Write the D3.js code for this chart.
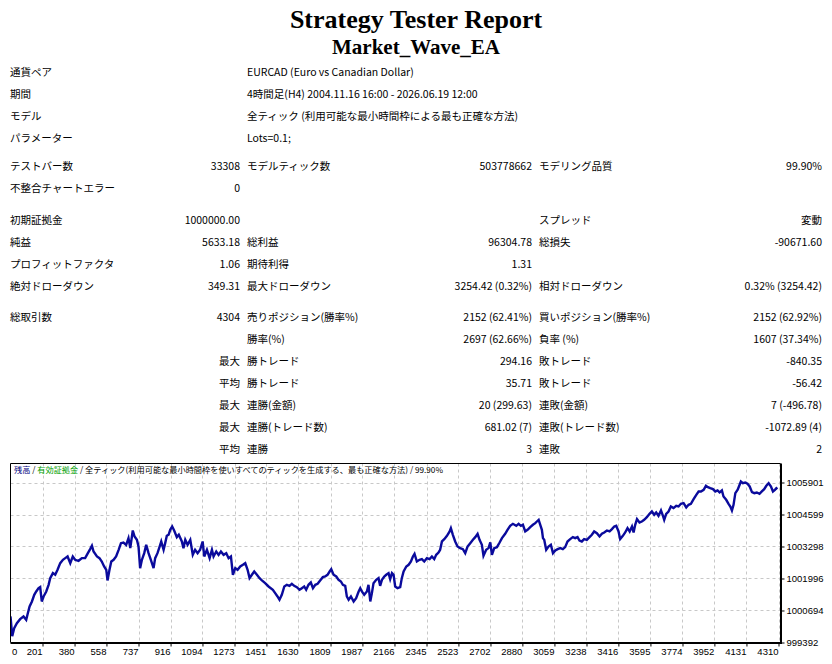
<!DOCTYPE html>
<html>
<head>
<meta charset="utf-8">
<script src="https://cdn.jsdelivr.net/npm/d3@7"></script>
<style>
body { margin: 0; background: #fff; }
svg { display: block; }
</style>
</head>
<body>
<div id="report"></div>
<script>
var titleText = "Strategy Tester Report";
var eaName = "Market_Wave_EA";

var infoRows = [
	["通貨ペア", "EURCAD (Euro vs Canadian Dollar)"],
	["期間", "4時間足(H4) 2004.11.16 16:00 - 2026.06.19 12:00"],
	["モデル", "全ティック (利用可能な最小時間枠による最も正確な方法)"],
	["パラメーター", "Lots=0.1;"]
];

var testRows = [
	["テストバー数", "33308", "モデルティック数", "503778662", "モデリング品質", "99.90%"],
	["不整合チャートエラー", "0", "", "", "", ""]
];

var profitRows = [
	["初期証拠金", "1000000.00", "", "", "スプレッド", "変動"],
	["純益", "5633.18", "総利益", "96304.78", "総損失", "-90671.60"],
	["プロフィットファクタ", "1.06", "期待利得", "1.31", "", ""],
	["絶対ドローダウン", "349.31", "最大ドローダウン", "3254.42 (0.32%)", "相対ドローダウン", "0.32% (3254.42)"]
];

var tradeRows = [
	["総取引数", "4304", "売りポジション(勝率%)", "2152 (62.41%)", "買いポジション(勝率%)", "2152 (62.92%)"],
	["", "", "勝率(%)", "2697 (62.66%)", "負率 (%)", "1607 (37.34%)"],
	["", "最大", "勝トレード", "294.16", "敗トレード", "-840.35"],
	["", "平均", "勝トレード", "35.71", "敗トレード", "-56.42"],
	["", "最大", "連勝(金額)", "20 (299.63)", "連敗(金額)", "7 (-496.78)"],
	["", "最大", "連勝(トレード数)", "681.02 (7)", "連敗(トレード数)", "-1072.89 (4)"],
	["", "平均", "連勝", "3", "連敗", "2"]
];

var legendParts = [
	["残高", "#000080"],
	[" / ", "#000000"],
	["有効証拠金", "#00a000"],
	[" / 全ティック(利用可能な最小時間枠を使いすべてのティックを生成する、最も正確な方法) / 99.90%", "#000000"]
];

var xTicks = [0, 201, 380, 558, 737, 916, 1094, 1273, 1451, 1630, 1809, 1987, 2166, 2345, 2523, 2702, 2880, 3059, 3238, 3416, 3595, 3774, 3952, 4131, 4310];
var yTicks = [999392, 1000694, 1001996, 1003298, 1004599, 1005901];

// balance after trade n
var tradeNo = [0, 24, 32, 43, 58, 76, 95, 110, 117, 129, 142, 155, 166, 179, 188, 197, 207, 222, 235, 244,
	259, 272, 285, 300, 315, 328, 341, 356, 370, 383, 402, 421, 439, 452, 467, 477, 486, 505, 519, 532,
	545, 557, 564, 575, 585, 598, 612, 626, 639, 653, 668, 681, 691, 705, 715, 728, 737, 746, 756, 769,
	780, 793, 806, 821, 830, 843, 854, 864, 877, 886, 895, 905, 914, 925, 936, 951, 962, 979, 988, 998,
	1011, 1026, 1040, 1053, 1067, 1081, 1095, 1104, 1119, 1134, 1147, 1156, 1171, 1184, 1197, 1212, 1227, 1240, 1253, 1264,
	1277, 1290, 1305, 1320, 1333, 1346, 1357, 1370, 1383, 1398, 1413, 1426, 1444, 1463, 1487, 1500, 1513, 1524, 1537, 1551,
	1565, 1580, 1593, 1606, 1621, 1636, 1649, 1662, 1673, 1686, 1699, 1711, 1724, 1737, 1751, 1766, 1779, 1792, 1804, 1813,
	1826, 1841, 1854, 1867, 1878, 1891, 1900, 1910, 1923, 1938, 1952, 1966, 1975, 1984, 1997, 2012, 2021, 2031, 2040, 2049,
	2064, 2077, 2086, 2096, 2109, 2120, 2133, 2142, 2152, 2161, 2170, 2183, 2198, 2207, 2217, 2232, 2245, 2258, 2269, 2278,
	2291, 2306, 2319, 2332, 2347, 2362, 2375, 2388, 2399, 2412, 2421, 2431, 2444, 2459, 2474, 2481, 2492, 2505, 2518, 2533,
	2548, 2561, 2574, 2589, 2604, 2617, 2630, 2641, 2654, 2663, 2678, 2691, 2701, 2710, 2723, 2738, 2753, 2766, 2784, 2797,
	2812, 2827, 2846, 2859, 2872, 2883, 2896, 2909, 2924, 2939, 2952, 2961, 2971, 2980, 2989, 2995, 3002, 3013, 3026, 3039,
	3051, 3064, 3077, 3092, 3106, 3119, 3132, 3147, 3162, 3175, 3188, 3199, 3212, 3225, 3240, 3255, 3268, 3281, 3296, 3311,
	3324, 3337, 3352, 3367, 3380, 3393, 3404, 3417, 3426, 3441, 3454, 3467, 3479, 3492, 3501, 3510, 3520, 3534, 3547, 3560,
	3575, 3590, 3603, 3616, 3627, 3640, 3654, 3665, 3672, 3683, 3696, 3709, 3724, 3739, 3752, 3765, 3780, 3795, 3808, 3821,
	3836, 3851, 3864, 3877, 3892, 3905, 3916, 3929, 3944, 3957, 3970, 3981, 3994, 4003, 4018, 4031, 4041, 4050, 4059, 4069,
	4082, 4093, 4100, 4111, 4124, 4137, 4149, 4162, 4175, 4189, 4204, 4217, 4230, 4242, 4255, 4268, 4279, 4290, 4298, 4304];

var balance = [1000000, 1000315, 999651, 999976, 1000180, 1000342, 1000451, 1000315, 1000519, 1000858, 1001061, 1001332, 1001468, 1001603, 1001644, 1001061, 1001264, 1001468, 1001739, 1002010,
	1002214, 1002146, 1002349, 1002620, 1002756, 1002824, 1002892, 1002620, 1002892, 1002756, 1002715, 1002824, 1002824, 1003000, 1003190, 1003326, 1003095, 1002892, 1002824, 1002688,
	1002485, 1002349, 1001915, 1002349, 1002688, 1002756, 1002892, 1003163, 1003434, 1003461, 1003366, 1003637, 1003231, 1003949, 1003705, 1003570, 1003298, 1002417, 1002756, 1003027,
	1003366, 1003027, 1002756, 1002417, 1002824, 1003027, 1003271, 1003502, 1003163, 1003434, 1003732, 1003773, 1003976, 1004112, 1003949, 1003678, 1003773, 1003502, 1003231, 1003570,
	1003366, 1003570, 1002959, 1003163, 1003027, 1003163, 1003502, 1002892, 1003163, 1002824, 1003163, 1002892, 1003095, 1002959, 1003095, 1002959, 1003027, 1002824, 1002892, 1002146,
	1002417, 1002349, 1002485, 1002553, 1002620, 1002349, 1002010, 1002146, 1002281, 1002146, 1002010, 1001915, 1001807, 1001671, 1001536, 1001400, 1001264, 1001129, 1001332, 1001671,
	1001739, 1001698, 1001780, 1001698, 1001644, 1001536, 1001603, 1001671, 1001536, 1001739, 1001834, 1001603, 1001739, 1001780, 1001915, 1002051, 1002078, 1002146, 1002281, 1002376,
	1002146, 1002078, 1001942, 1001875, 1001739, 1001698, 1001264, 1001129, 1001264, 1001061, 1001197, 1001468, 1001603, 1001468, 1001332, 1001468, 1001739, 1001061, 1001400, 1001807,
	1001942, 1002010, 1001698, 1001942, 1002078, 1002146, 1002214, 1001970, 1002214, 1002146, 1001671, 1001603, 1001644, 1002010, 1002281, 1002485, 1002553, 1002688, 1002892, 1003000,
	1002688, 1002756, 1002783, 1002688, 1002824, 1002783, 1002892, 1002783, 1002959, 1003054, 1003163, 1003502, 1003597, 1003732, 1003909, 1004044, 1003773, 1003502, 1003298, 1003231,
	1003190, 1003027, 1003298, 1003434, 1003570, 1003678, 1003814, 1003570, 1003366, 1002919, 1003163, 1003231, 1003461, 1002959, 1003231, 1003271, 1003461, 1003637, 1003814, 1003976,
	1004139, 1004220, 1004139, 1004220, 1004139, 1004180, 1003909, 1003976, 1004085, 1004180, 1004248, 1004315, 1004383, 1004180, 1003976, 1003637, 1003570, 1003163, 1003298, 1003366,
	1003027, 1003136, 1003190, 1003231, 1003190, 1003271, 1003502, 1003597, 1003678, 1003637, 1003678, 1003542, 1003502, 1003597, 1003570, 1003678, 1003773, 1003909, 1003841, 1003705,
	1003814, 1003868, 1003949, 1003909, 1004004, 1004112, 1004139, 1003909, 1003597, 1003732, 1003868, 1004044, 1003909, 1004112, 1003868, 1004180, 1004410, 1004275, 1004315, 1004383,
	1004492, 1004627, 1004722, 1004587, 1004682, 1004546, 1004763, 1004546, 1004383, 1004627, 1004722, 1004926, 1004858, 1004953, 1004926, 1005034, 1005061, 1004885, 1004993, 1005034,
	1005224, 1005400, 1005536, 1005536, 1005604, 1005766, 1005712, 1005671, 1005631, 1005536, 1005576, 1005495, 1005576, 1005332, 1005197, 1005034, 1004926, 1004763, 1004993, 1005468,
	1005604, 1005807, 1005943, 1005875, 1005902, 1005848, 1005739, 1005509, 1005468, 1005495, 1005441, 1005536, 1005631, 1005766, 1005875, 1005739, 1005536, 1005604, 1005671, 1005633];

var W = 832, H = 664;
var jpFont = "'Noto Sans CJK JP', 'Noto Sans', sans-serif";
var chartFont = "'Liberation Sans', Arial, sans-serif";
var balanceColor = "#0a0a9c";

var svg = d3.select("#report")
	.append("svg")
	.attr("width", W)
	.attr("height", H);

// ---- header ----
svg.append("text")
	.attr("x", 416)
	.attr("y", 28)
	.attr("text-anchor", "middle")
	.style("font-family", "'Liberation Serif', 'Times New Roman', serif")
	.style("font-weight", "bold")
	.style("font-size", "26px")
	.text(titleText);

svg.append("text")
	.attr("x", 416)
	.attr("y", 54)
	.attr("text-anchor", "middle")
	.style("font-family", "'Liberation Serif', 'Times New Roman', serif")
	.style("font-weight", "bold")
	.style("font-size", "21px")
	.text(eaName);

// ---- summary table ----
var table = svg.append("g")
	.style("font-family", jpFont)
	.style("font-size", "10.5px")
	.attr("fill", "#000");

var colX = [10, 240, 247, 532, 539, 822];
var colAnchor = ["start", "end", "start", "end", "start", "end"];
var rowStep = 22;
var groupGap = [0, 6, 10, 9];

var cell = function (x, y, anchor, txt) {
	if (!txt) return;
	table.append("text")
		.attr("x", x)
		.attr("y", y)
		.attr("dy", "0.36em")
		.attr("text-anchor", anchor)
		.text(txt);
};

var rowY = 72;
[infoRows, testRows, profitRows, tradeRows].forEach(function (rows, gi) {
	rowY += groupGap[gi];
	rows.forEach(function (r) {
		if (r.length == 2) {
			cell(colX[0], rowY, "start", r[0]);
			cell(colX[2], rowY, "start", r[1]);
		} else {
			r.forEach(function (txt, ci) {
				cell(colX[ci], rowY, colAnchor[ci], txt);
			});
		}
		rowY += rowStep;
	});
});

// ---- balance chart ----
var plot = { left: 10.5, top: 463.5, right: 780.5, bottom: 642.5 };
var gridStep = 32;

var x = d3.scaleLinear()
	.domain([xTicks[1], xTicks[xTicks.length - 1]])
	.range([plot.left + gridStep, plot.left + gridStep * (xTicks.length - 1)]);

var y = d3.scaleLinear()
	.domain([yTicks[0], yTicks[yTicks.length - 1]])
	.range([plot.bottom, plot.bottom - gridStep * (yTicks.length - 1)]);

var chart = svg.append("g");

chart.append("clipPath")
	.attr("id", "plot-clip")
	.append("rect")
	.attr("x", plot.left)
	.attr("y", plot.top)
	.attr("width", plot.right - plot.left)
	.attr("height", plot.bottom - plot.top);

var grid = chart.append("g")
	.attr("stroke", "#c8c8c8")
	.attr("stroke-width", 1)
	.attr("stroke-dasharray", "3,3");

grid.selectAll("line.v")
	.data(xTicks.slice(1))
	.enter()
	.append("line")
	.attr("class", "v")
	.attr("x1", function (d) { return Math.round(x(d)) + 0.5; })
	.attr("x2", function (d) { return Math.round(x(d)) + 0.5; })
	.attr("y1", plot.top)
	.attr("y2", plot.bottom);

grid.selectAll("line.h")
	.data(yTicks.slice(1))
	.enter()
	.append("line")
	.attr("class", "h")
	.attr("x1", plot.left)
	.attr("x2", plot.right)
	.attr("y1", function (d) { return Math.round(y(d)) + 0.5; })
	.attr("y2", function (d) { return Math.round(y(d)) + 0.5; });

var line = d3.line()
	.x(function (d) { return x(d[0]); })
	.y(function (d) { return y(d[1]); });

chart.append("path")
	.datum(d3.zip(tradeNo, balance))
	.attr("clip-path", "url(#plot-clip)")
	.attr("fill", "none")
	.attr("stroke", balanceColor)
	.attr("stroke-width", 2.4)
	.attr("stroke-linejoin", "miter")
	.attr("d", line);

// frame
chart.append("path")
	.attr("fill", "none")
	.attr("stroke", "#000")
	.attr("stroke-width", 1)
	.attr("d", "M" + plot.left + "," + plot.bottom + "V" + plot.top + "H" + plot.right);
chart.append("path")
	.attr("fill", "none")
	.attr("stroke", "#000")
	.attr("stroke-width", 2)
	.attr("d", "M" + plot.left + "," + (plot.bottom + 0.5) + "H" + (plot.right + 0.5) + "V" + plot.top);

// axes
var yAxis = d3.axisRight(y)
	.tickValues(yTicks)
	.tickSize(3)
	.tickPadding(2)
	.tickFormat(d3.format("d"));

chart.append("g")
	.attr("transform", "translate(" + (plot.right + 1) + ",0)")
	.call(yAxis)
	.call(function (g) { g.select(".domain").remove(); })
	.call(function (g) {
		g.selectAll("text")
			.style("font-family", chartFont)
			.style("font-size", "9.5px")
			.attr("fill", "#000");
	});

var xAxis = d3.axisBottom(x)
	.tickValues(xTicks)
	.tickSize(3)
	.tickPadding(2)
	.tickFormat(d3.format("d"));

chart.append("g")
	.attr("transform", "translate(0," + (plot.bottom + 1) + ")")
	.call(xAxis)
	.call(function (g) { g.select(".domain").remove(); })
	.call(function (g) {
		g.selectAll(".tick")
			.filter(function (d) { return d == 0; })
			.attr("transform", "translate(" + plot.left + ",0)")
			.select("line").remove();
		g.selectAll("text")
			.style("font-family", chartFont)
			.style("font-size", "9.5px")
			.attr("fill", "#000")
			.attr("text-anchor", function (d) { return d == 0 ? "start" : "end"; })
			.attr("x", function (d) { return d == 0 ? 1.5 : -0.5; });
	});

// legend
var legend = chart.append("text")
	.attr("x", plot.left + 3.5)
	.attr("y", plot.top + 7)
	.attr("dy", "0.36em")
	.style("font-family", jpFont)
	.style("font-size", "8.2px");

legend.selectAll("tspan")
	.data(legendParts)
	.enter()
	.append("tspan")
	.attr("fill", function (d) { return d[1]; })
	.text(function (d) { return d[0]; });
</script>
</body>
</html>
